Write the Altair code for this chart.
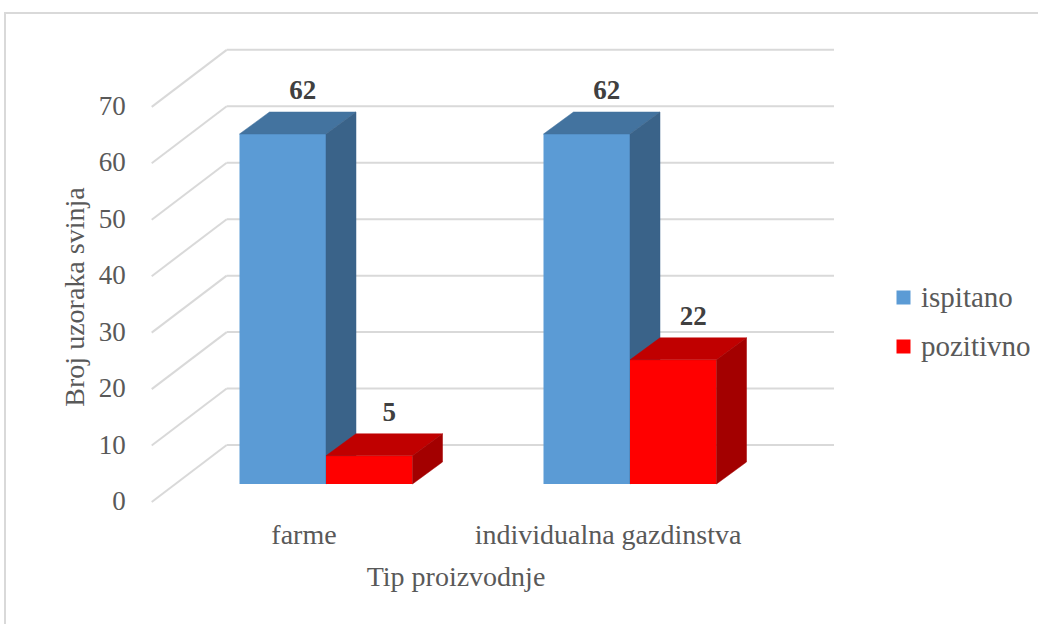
import altair as alt
import pandas as pd

# ---------------- data ----------------
categories = ["farme", "individualna gazdinstva"]
series_names = ["ispitano", "pozitivno"]
ispitano = [62, 62]
pozitivno = [5, 22]
y_ticks = [0, 10, 20, 30, 40, 50, 60, 70]
x_title = "Tip proizvodnje"
y_title = "Broj uzoraka svinja"

# ---------------- layout (pixels) ----------------
PAD_L, PAD_T = 5, 13
VIEW_W, VIEW_H = 1036, 614
PX_PER_VAL = 5.645          # vertical pixels per value unit
GROUP_PX = 304              # horizontal distance between category groups
BASE_Y = 484 - PAD_T        # bar baseline (view px)
GROUP0_X = 326 - PAD_L      # centre of first group (view px)

def ux(px_offset):          # horizontal pixel offset -> x units
    return px_offset / GROUP_PX

def uy(px_offset):          # vertical pixel offset (up positive) -> value units
    return px_offset / PX_PER_VAL

x_dom = [ux(0 - GROUP0_X), ux(VIEW_W - GROUP0_X)]
y_dom = [uy(BASE_Y - VIEW_H), uy(BASE_Y)]
xs = alt.Scale(domain=x_dom, nice=False, zero=False)
ys = alt.Scale(domain=y_dom, nice=False, zero=False)

bar_w = ux(86.5)
depth_dx, depth_dy = ux(30), uy(22)
front_dx, front_dy = ux(-174.3), uy(-18)     # front edge of the floor/grid
back_dx, back_dy = ux(-99.3), uy(39)         # back wall start
end_dx = ux(508)                              # back wall right end
label_dx = ux(20)

FONT = "Liberation Serif, Times New Roman, serif"
TXT = "#595959"
top_col = {"ispitano": "#43739F", "pozitivno": "#C00000"}
side_col = {"ispitano": "#3A6389", "pozitivno": "#A30000"}
front_col = {"ispitano": "#5B9BD5", "pozitivno": "#FF0000"}

values = {"ispitano": ispitano, "pozitivno": pozitivno}

# ---------------- tables ----------------
bars, tops, sides, labels = [], [], [], []
for i, cat in enumerate(categories):
    for j, s in enumerate(series_names):
        v = values[s][i]
        x0 = i - bar_w + j * bar_w
        x1 = x0 + bar_w
        bid = f"{i}-{s}"
        bars.append(dict(cat=cat, series=s, value=v, base=0, x0=x0, x1=x1))
        tops.append(dict(bar=bid, series=s, y=v, xa=x0, xb=x1))
        tops.append(dict(bar=bid, series=s, y=v + depth_dy, xa=x0 + depth_dx, xb=x1 + depth_dx))
        sides.append(dict(bar=bid, series=s, x=x1, ya=0, yb=v))
        sides.append(dict(bar=bid, series=s, x=x1 + depth_dx, ya=depth_dy, yb=v + depth_dy))
        labels.append(dict(series=s, x=(x0 + x1) / 2 + label_dx, y=v + uy(35), text=str(v)))

bars = pd.DataFrame(bars)
tops = pd.DataFrame(tops)
sides = pd.DataFrame(sides)
labels = pd.DataFrame(labels)

grid = pd.DataFrame({
    "v": y_ticks,
    "fx": front_dx, "fy": [t + front_dy for t in y_ticks],
    "bx": back_dx, "by": [t + back_dy for t in y_ticks],
    "ex": end_dx,
    "lx": front_dx + ux(-26),
    "lab": [str(t) for t in y_ticks],
})

cats = pd.DataFrame({
    "x": [i + ux(-22) for i in range(len(categories))],
    "y": uy(484 - 544),
    "text": categories,
})
titles = pd.DataFrame({
    "x": [ux(456 - 326)],
    "y": [uy(484 - 586)],
    "text": [x_title],
})
ytitle = pd.DataFrame({
    "x": [ux(76 - 326)],
    "y": [uy(484 - 297)],
    "text": [y_title],
})

GRID = "#D9D9D9"
X = lambda f: alt.X(f, scale=xs, axis=None, title=None)
Y = lambda f: alt.Y(f, scale=ys, axis=None, title=None)

back_rules = alt.Chart(grid).mark_rule(color=GRID, strokeWidth=2).encode(
    x=X("bx:Q"), x2="ex:Q", y=Y("by:Q"), y2="by:Q")
slant_rules = alt.Chart(grid).mark_rule(color=GRID, strokeWidth=2).encode(
    x=X("fx:Q"), x2="bx:Q", y=Y("fy:Q"), y2="by:Q")
tick_text = alt.Chart(grid).mark_text(
    font=FONT, fontSize=27, color=TXT, align="right", baseline="middle").encode(
    x=X("lx:Q"), y=Y("fy:Q"), text="lab:N")

color_enc = alt.Color(
    "series:N",
    scale=alt.Scale(domain=series_names, range=[front_col[s] for s in series_names]),
    legend=alt.Legend(
        title=None, orient="none", legendX=884, legendY=270, symbolType="square",
        symbolSize=196, symbolStrokeWidth=0, labelFont=FONT, labelFontSize=29,
        labelColor=TXT, rowPadding=19, labelOffset=3, padding=0),
)

layers = [back_rules, slant_rules, tick_text]
for s in series_names:
    front = alt.Chart(bars[bars.series == s]).mark_rect().encode(
        x=X("x0:Q"), x2="x1:Q", y=Y("base:Q"), y2="value:Q", color=color_enc)
    top = alt.Chart(tops[tops.series == s]).mark_area(
        orient="horizontal", color=top_col[s], stroke=top_col[s], strokeWidth=0.5).encode(
        y=Y("y:Q"), x=X("xa:Q"), x2="xb:Q", detail="bar:N")
    side = alt.Chart(sides[sides.series == s]).mark_area(
        color=side_col[s], stroke=side_col[s], strokeWidth=0.5).encode(
        x=X("x:Q"), y=Y("ya:Q"), y2="yb:Q", detail="bar:N")
    layers += [front, top, side]

value_text = alt.Chart(labels).mark_text(
    font=FONT, fontSize=27, fontWeight="bold", color="#404040",
    align="center", baseline="alphabetic").encode(
    x=X("x:Q"), y=Y("y:Q"), text="text:N")
cat_text = alt.Chart(cats).mark_text(
    font=FONT, fontSize=28, color=TXT, align="center", baseline="alphabetic").encode(
    x=X("x:Q"), y=Y("y:Q"), text="text:N")
xtitle_text = alt.Chart(titles).mark_text(
    font=FONT, fontSize=28, color=TXT, align="center", baseline="alphabetic").encode(
    x=X("x:Q"), y=Y("y:Q"), text="text:N")
ytitle_text = alt.Chart(ytitle).mark_text(
    font=FONT, fontSize=28, color=TXT, align="center", baseline="middle", angle=270).encode(
    x=X("x:Q"), y=Y("y:Q"), text="text:N")

layers += [value_text, cat_text, xtitle_text, ytitle_text]

chart = alt.layer(*layers).properties(
    width=VIEW_W, height=VIEW_H,
    autosize=alt.AutoSizeParams(type="none"),
    padding={"left": PAD_L, "top": PAD_T, "right": -3, "bottom": -3},
    background="white",
).configure_view(stroke="#D9D9D9", strokeWidth=2)

chart.save("out.html", embed_options={"renderer": "svg", "actions": False})
